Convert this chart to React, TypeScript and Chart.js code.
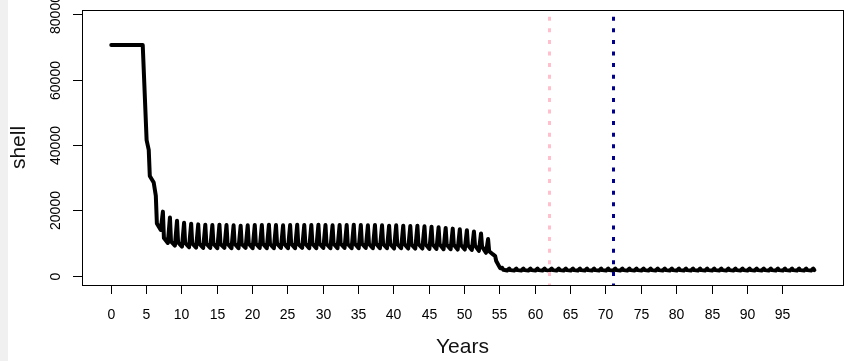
import React, { useEffect, useRef } from "react";
import { Chart, registerables } from "chart.js";

Chart.register(...registerables);

// ---- data ----
const years = Array.from({ length: 100 }, (_, i) => i); // simulation years 0..99

// within-year sampling positions (fraction of a year)
const phaseTrough = 0.1;
const phasePeak = 0.4;
const phaseAfter = 0.55;

// value at the start of each year (low point)
const trough = [
  70600, 70600, 70600, 70600, 70600, 41500, 28500, 14000, 10000, 9200,
  8900, 8700, 8600, 8500, 8500, 8400, 8500, 8400, 8400, 8500,
  8400, 8500, 8400, 8400, 8500, 8400, 8400, 8500, 8400, 8400,
  8500, 8400, 8400, 8500, 8400, 8400, 8500, 8400, 8400, 8400,
  8300, 8400, 8300, 8300, 8300, 8200, 8200, 8100, 8100, 8000,
  8000, 7900, 7600, 7000, 6500, 2300, 1600, 1600, 1600, 1600,
  1600, 1600, 1600, 1600, 1600, 1600, 1600, 1600, 1600, 1600,
  1600, 1600, 1600, 1600, 1600, 1600, 1600, 1600, 1600, 1600,
  1600, 1600, 1600, 1600, 1600, 1600, 1600, 1600, 1600, 1600,
  1600, 1600, 1600, 1600, 1600, 1600, 1600, 1600, 1600, 1600,
];

// seasonal peak of each year
const peak = [
  70600, 70600, 70600, 70600, 70600, 38500, 24500, 19600, 17800, 16800,
  16200, 15900, 15700, 15600, 15500, 15600, 15500, 15400, 15300, 15400,
  15500, 15500, 15600, 15500, 15400, 15500, 15600, 15500, 15500, 15600,
  15500, 15400, 15500, 15500, 15600, 15500, 15400, 15500, 15400, 15300,
  15400, 15300, 15200, 15300, 15100, 15000, 14800, 14600, 14400, 14200,
  13900, 13500, 12900, 11200, 6000, 2400, 2200, 2200, 2200, 2200,
  2200, 2200, 2200, 2200, 2200, 2200, 2200, 2200, 2200, 2200,
  2200, 2200, 2200, 2200, 2200, 2200, 2200, 2200, 2200, 2200,
  2200, 2200, 2200, 2200, 2200, 2200, 2200, 2200, 2200, 2200,
  2200, 2200, 2200, 2200, 2200, 2200, 2200, 2200, 2200, 2200,
];

// value just after the seasonal peak
const after = [
  70600, 70600, 70600, 70600, 70600, 30500, 16000, 11500, 10500, 10200,
  10000, 9900, 9800, 9800, 9800, 9700, 9800, 9800, 9700, 9800,
  9800, 9800, 9700, 9800, 9800, 9800, 9700, 9800, 9800, 9800,
  9700, 9800, 9800, 9700, 9800, 9800, 9700, 9800, 9700, 9700,
  9700, 9700, 9600, 9700, 9600, 9600, 9600, 9500, 9500, 9400,
  9300, 9200, 8900, 7500, 4500, 1800, 1700, 1700, 1700, 1700,
  1700, 1700, 1700, 1700, 1700, 1700, 1700, 1700, 1700, 1700,
  1700, 1700, 1700, 1700, 1700, 1700, 1700, 1700, 1700, 1700,
  1700, 1700, 1700, 1700, 1700, 1700, 1700, 1700, 1700, 1700,
  1700, 1700, 1700, 1700, 1700, 1700, 1700, 1700, 1700, 1700,
];

const xTicks = [0, 5, 10, 15, 20, 25, 30, 35, 40, 45, 50, 55, 60, 65, 70, 75, 80, 85, 90, 95];
const yTicks = [0, 20000, 40000, 60000, 80000];

const markerYears = [62, 71];
const markerColors = ["#FFC0CB", "#00008B"];

const xLabel = "Years";
const yLabel = "shell";

const FONT = '"Liberation Sans", Arial, sans-serif';

const rAxesPlugin = {
  id: "rAxes",
  beforeDraw(chart: any) {
    const { ctx, width, height } = chart;
    ctx.save();
    ctx.fillStyle = "#ffffff";
    ctx.fillRect(0, 0, width, height);
    ctx.fillStyle = "#f0f0f0";
    ctx.fillRect(0, 0, 8, height);
    ctx.restore();
  },
  afterDatasetsDraw(chart: any) {
    const { ctx, chartArea: a, scales } = chart;
    const x = scales.x;
    const y = scales.y;

    // vertical dotted reference lines
    ctx.save();
    ctx.beginPath();
    ctx.rect(a.left, a.top, a.right - a.left, a.bottom - a.top);
    ctx.clip();
    markerYears.forEach((yr, i) => {
      const px = Math.round(x.getPixelForValue(yr)) + 0.5;
      ctx.strokeStyle = markerColors[i];
      ctx.lineWidth = 3;
      ctx.lineCap = "butt";
      ctx.setLineDash([4, 7.6]);
      ctx.lineDashOffset = 4.9;
      ctx.beginPath();
      ctx.moveTo(px, a.top);
      ctx.lineTo(px, a.bottom);
      ctx.stroke();
    });
    ctx.restore();

    // box
    ctx.save();
    ctx.strokeStyle = "#000";
    ctx.lineWidth = 1;
    ctx.setLineDash([]);
    ctx.strokeRect(a.left + 0.5, a.top + 0.5, a.right - a.left, a.bottom - a.top);

    // x ticks + labels
    ctx.fillStyle = "#000";
    ctx.font = `14px ${FONT}`;
    ctx.textAlign = "center";
    ctx.textBaseline = "alphabetic";
    xTicks.forEach((v) => {
      const px = Math.round(x.getPixelForValue(v)) + 0.5;
      ctx.beginPath();
      ctx.moveTo(px, a.bottom);
      ctx.lineTo(px, a.bottom + 9);
      ctx.stroke();
      ctx.fillText(String(v), px, 319);
    });

    // y ticks + labels (rotated, R style)
    yTicks.forEach((v) => {
      const py = Math.round(y.getPixelForValue(v)) + 0.5;
      ctx.beginPath();
      ctx.moveTo(a.left - 9, py);
      ctx.lineTo(a.left, py);
      ctx.stroke();
      ctx.save();
      ctx.translate(60, py);
      ctx.rotate(-Math.PI / 2);
      ctx.fillText(String(v), 0, 0);
      ctx.restore();
    });

    // axis titles
    ctx.font = `21px ${FONT}`;
    ctx.fillStyle = "#111";
    ctx.fillText(xLabel, (a.left + a.right) / 2, 352.5);
    ctx.save();
    ctx.translate(25, (a.top + a.bottom) / 2);
    ctx.rotate(-Math.PI / 2);
    ctx.fillText(yLabel, 0, 0);
    ctx.restore();
    ctx.restore();
  },
};

export default function App() {
  const canvasRef = useRef<HTMLCanvasElement | null>(null);

  useEffect(() => {
    if (!canvasRef.current) return;
    const points: { x: number; y: number }[] = [];
    years.forEach((yr, i) => {
      points.push({ x: yr + phaseTrough, y: trough[i] });
      points.push({ x: yr + phasePeak, y: peak[i] });
      points.push({ x: yr + phaseAfter, y: after[i] });
    });

    const chart = new Chart(canvasRef.current, {
      type: "line",
      data: {
        datasets: [
          {
            data: points,
            borderColor: "#000000",
            borderWidth: 4,
            pointRadius: 0,
            tension: 0,
            fill: false,
            borderCapStyle: "round",
            borderJoinStyle: "round",
          },
        ],
      },
      options: {
        animation: false,
        responsive: false,
        devicePixelRatio: 1,
        layout: { padding: { left: 82, right: 3, top: 10, bottom: 76 } },
        scales: {
          x: { type: "linear", min: -4.04, max: 103.6, display: false },
          y: { type: "linear", min: -2850, max: 81300, display: false },
        },
        plugins: {
          legend: { display: false },
          tooltip: { enabled: false },
        },
      },
      plugins: [rAxesPlugin],
    });
    return () => chart.destroy();
  }, []);

  return (
    <canvas
      ref={canvasRef}
      width={846}
      height={361}
      style={{ position: "fixed", left: 0, top: 0, display: "block" }}
    />
  );
}
